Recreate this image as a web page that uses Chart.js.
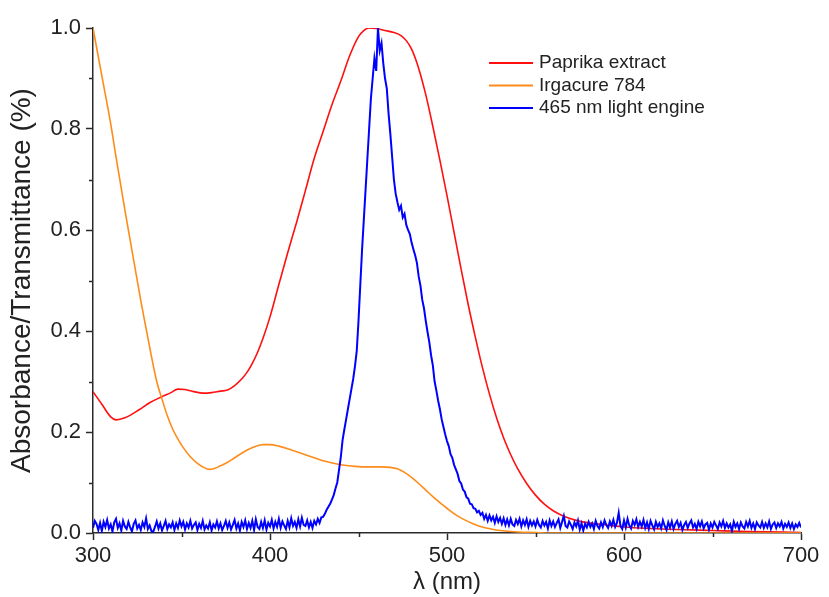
<!DOCTYPE html>
<html><head><meta charset="utf-8">
<script src="https://cdn.jsdelivr.net/npm/chart.js@4.4.1/dist/chart.umd.min.js"></script>
<style>html,body{margin:0;padding:0;background:#fff}#wrap{width:829px;height:597px;position:relative}</style>
</head><body><div id="wrap"><canvas id="c" width="829" height="597"></canvas></div>
<script>
// ---- axis ticks ----
const xTicks = [300, 400, 500, 600, 700];
const xMinorTicks = [350, 450, 550, 650];
const yTicks = [0, 0.2, 0.4, 0.6, 0.8, 1.0];
const yMinorTicks = [0.1, 0.3, 0.5, 0.7, 0.9];
const seriesLabels = ['Paprika extract', 'Irgacure 784', '465 nm light engine'];

// ---- Paprika extract (absorbance) ----
const paprikaNm = [300,305,310,313,318,326,332,339,344,348,352,357,362,367,372,376,380,384,387,390,393,396,400,405,410,415,420,425,430,435,440,445,450,453,456,460,465,470,474,477,480,484,488,492,496,500,504,508,512,516,520,524,528,532,536,540,545,550,555,560,566,572,580,590,600,615,630,650,670,700];
const paprikaAbs = [0.280,0.255,0.230,0.224,0.228,0.244,0.258,0.270,0.278,0.285,0.284,0.280,0.277,0.278,0.281,0.283,0.292,0.305,0.318,0.336,0.358,0.385,0.428,0.492,0.555,0.615,0.678,0.742,0.795,0.848,0.895,0.945,0.983,0.995,1.000,0.999,0.995,0.991,0.985,0.975,0.958,0.920,0.868,0.805,0.738,0.668,0.595,0.522,0.452,0.388,0.328,0.275,0.228,0.188,0.155,0.127,0.098,0.075,0.057,0.044,0.033,0.026,0.020,0.016,0.012,0.009,0.007,0.005,0.003,0.001];

// ---- Irgacure 784 (absorbance) ----
const irgacureNm = [300,305,310,313,318,323,327,330,333,336,339,342,345,348,351,355,359,363,366,369,372,376,380,384,388,392,396,400,405,410,415,420,425,430,436,442,448,455,462,468,472,476,480,484,488,492,496,500,505,510,515,520,525,530,540,550,560,700];
const irgacureAbs = [1.000,0.905,0.810,0.745,0.640,0.540,0.460,0.405,0.350,0.300,0.265,0.232,0.206,0.186,0.169,0.151,0.138,0.129,0.126,0.128,0.133,0.140,0.149,0.158,0.166,0.172,0.175,0.175,0.172,0.167,0.161,0.155,0.149,0.143,0.138,0.134,0.132,0.131,0.131,0.130,0.127,0.120,0.110,0.098,0.085,0.072,0.060,0.049,0.036,0.026,0.018,0.012,0.008,0.005,0.002,0.001,0.000,0.000];

// ---- 465 nm light engine (transmittance), 1 nm sampling from 300 nm ----
const ledStartNm = 300;
const ledStepNm = 1;
const ledVal = [
0.010,0.024,0.018,0.006,0.020,0.004,0.022,0.012,0.026,0.009,
0.017,0.003,0.021,0.028,0.010,0.019,0.005,0.024,0.013,0.008,
0.022,0.011,0.003,0.018,0.025,0.009,0.016,0.006,0.021,0.012,
0.029,0.008,0.015,0.004,0.002,0.012,0.023,0.009,0.019,0.005,
0.014,0.024,0.008,0.017,0.011,0.021,0.006,0.019,0.010,0.025,
0.013,0.022,0.007,0.019,0.011,0.024,0.009,0.016,0.021,0.006,
0.018,0.010,0.024,0.007,0.015,0.009,0.021,0.005,0.017,0.011,
0.023,0.009,0.019,0.006,0.014,0.024,0.010,0.021,0.007,0.016,
0.026,0.009,0.019,0.005,0.022,0.012,0.025,0.008,0.020,0.010,
0.024,0.006,0.027,0.012,0.008,0.022,0.010,0.025,0.007,0.020,
0.013,0.026,0.009,0.022,0.012,0.028,0.010,0.023,0.015,0.008,
0.024,0.011,0.029,0.014,0.022,0.010,0.027,0.013,0.030,0.016,
0.014,0.025,0.011,0.022,0.010,0.024,0.017,0.028,0.020,0.031,
0.032,0.038,0.046,0.052,0.058,0.066,0.075,0.088,0.100,0.125,
0.150,0.184,0.205,0.225,0.245,0.265,0.285,0.305,0.330,0.360,
0.420,0.490,0.560,0.620,0.680,0.740,0.800,0.860,0.900,0.940,
0.915,1.000,0.955,0.970,0.930,0.900,0.880,0.830,0.790,0.745,
0.700,0.672,0.655,0.640,0.648,0.625,0.632,0.610,0.600,0.592,
0.575,0.562,0.550,0.535,0.508,0.490,0.462,0.445,0.420,0.398,
0.378,0.352,0.332,0.300,0.282,0.262,0.245,0.225,0.210,0.195,
0.182,0.172,0.156,0.149,0.135,0.126,0.117,0.103,0.098,0.086,
0.082,0.071,0.068,0.058,0.057,0.049,0.048,0.041,0.044,0.036,
0.040,0.028,0.036,0.024,0.035,0.025,0.032,0.020,0.033,0.022,
0.030,0.018,0.029,0.016,0.027,0.015,0.028,0.017,0.014,0.026,
0.018,0.028,0.013,0.025,0.016,0.027,0.012,0.024,0.015,0.023,
0.013,0.026,0.016,0.011,0.024,0.015,0.022,0.009,0.025,0.014,
0.023,0.012,0.020,0.027,0.010,0.022,0.034,0.014,0.011,0.023,
0.016,0.008,0.021,0.013,0.025,0.007,0.019,0.005,0.018,0.011,
0.022,0.012,0.019,0.008,0.024,0.014,0.009,0.021,0.012,0.025,
0.016,0.010,0.023,0.014,0.026,0.012,0.020,0.040,0.014,0.008,
0.025,0.011,0.028,0.015,0.009,0.024,0.016,0.027,0.012,0.022,
0.013,0.026,0.010,0.021,0.008,0.024,0.015,0.007,0.022,0.012,
0.019,0.009,0.025,0.014,0.006,0.021,0.011,0.023,0.008,0.018,
0.024,0.012,0.020,0.006,0.016,0.022,0.010,0.019,0.025,0.011,
0.018,0.008,0.022,0.013,0.023,0.009,0.017,0.020,0.007,0.019,
0.011,0.022,0.015,0.008,0.021,0.013,0.024,0.010,0.019,0.011,
0.017,0.004,0.022,0.012,0.019,0.008,0.021,0.013,0.009,0.022,
0.013,0.024,0.010,0.019,0.008,0.021,0.015,0.011,0.022,0.010,
0.019,0.011,0.023,0.008,0.017,0.021,0.010,0.019,0.013,0.022,
0.009,0.018,0.012,0.021,0.010,0.019,0.008,0.017,0.012,0.020,
0.011
];

const FONT = "'Liberation Sans', Arial, Helvetica, sans-serif";
const AXIS_COLOR = '#2a2a2a';

const pairs = (xs, ys) => xs.map((x, i) => ({x: x, y: ys[i]}));
const ledData = ledVal.map((v, i) => ({x: ledStartNm + i * ledStepNm, y: v}));

const minorTicks = {
  id: 'minorTicks',
  afterDraw(chart) {
    const ctx = chart.ctx, xs = chart.scales.x, ys = chart.scales.y;
    ctx.save();
    ctx.strokeStyle = AXIS_COLOR;
    ctx.lineWidth = 1.5;
    ctx.beginPath();
    xMinorTicks.forEach(v => {
      const p = Math.round(xs.getPixelForValue(v)) + 0.5;
      ctx.moveTo(p, ys.bottom); ctx.lineTo(p, ys.bottom + 4);
    });
    yMinorTicks.forEach(v => {
      const p = Math.round(ys.getPixelForValue(v)) + 0.5;
      ctx.moveTo(xs.left, p); ctx.lineTo(xs.left - 4, p);
    });
    ctx.stroke();
    ctx.restore();
  }
};

const insideLegend = {
  id: 'insideLegend',
  afterDraw(chart) {
    const ctx = chart.ctx, area = chart.chartArea;
    const x0 = area.left + 396, y0 = area.top + 35, rowH = 22.5;
    ctx.save();
    ctx.font = '19px ' + FONT;
    ctx.textBaseline = 'middle';
    ctx.textAlign = 'left';
    chart.data.datasets.forEach((ds, i) => {
      const y = y0 + i * rowH;
      ctx.strokeStyle = ds.borderColor;
      ctx.lineWidth = 2;
      ctx.beginPath(); ctx.moveTo(x0, y); ctx.lineTo(x0 + 44, y); ctx.stroke();
      ctx.fillStyle = '#222';
      ctx.fillText(ds.label, x0 + 50, y);
    });
    ctx.restore();
  }
};

new Chart(document.getElementById('c'), {
  type: 'line',
  data: {
    datasets: [
      {label: seriesLabels[0], data: pairs(paprikaNm, paprikaAbs), borderColor: '#ff1010', borderWidth: 1.6, pointRadius: 0, cubicInterpolationMode: 'monotone', order: 2},
      {label: seriesLabels[1], data: pairs(irgacureNm, irgacureAbs), borderColor: '#ff8c1a', borderWidth: 1.6, pointRadius: 0, cubicInterpolationMode: 'monotone', order: 1},
      {label: seriesLabels[2], data: ledData, borderColor: '#0000ff', borderWidth: 2, pointRadius: 0, tension: 0, order: 0}
    ]
  },
  options: {
    responsive: false,
    animation: false,
    devicePixelRatio: 1,
    layout: {padding: {left: 0, top: 28, right: 28, bottom: 0}},
    plugins: {legend: {display: false}, tooltip: {enabled: false}},
    scales: {
      x: {
        type: 'linear', min: 300, max: 700,
        afterBuildTicks: s => { s.ticks = xTicks.map(v => ({value: v})); },
        afterFit: s => { s.height = 64; },
        ticks: {font: {family: FONT, size: 22}, color: '#222', padding: 3, maxRotation: 0},
        grid: {display: true, drawOnChartArea: false, drawTicks: true, tickLength: 7, tickColor: AXIS_COLOR, tickWidth: 1.5},
        border: {display: true, color: AXIS_COLOR, width: 1.5},
        title: {display: true, text: 'λ (nm)', font: {family: FONT, size: 24}, color: '#222', padding: {top: 0, bottom: 0}}
      },
      y: {
        type: 'linear', min: 0, max: 1,
        afterBuildTicks: s => { s.ticks = yTicks.map(v => ({value: v})); },
        afterFit: s => { s.width = 93; },
        ticks: {font: {family: FONT, size: 22}, color: '#222', padding: 5, callback: v => Number(v).toFixed(1)},
        grid: {display: true, drawOnChartArea: false, drawTicks: true, tickLength: 7, tickColor: AXIS_COLOR, tickWidth: 1.5},
        border: {display: true, color: AXIS_COLOR, width: 1.5},
        title: {display: true, text: 'Absorbance/Transmittance (%)', font: {family: FONT, size: 28}, color: '#222', padding: {top: 5, bottom: 0}}
      }
    }
  },
  plugins: [minorTicks, insideLegend]
});
</script></body></html>
